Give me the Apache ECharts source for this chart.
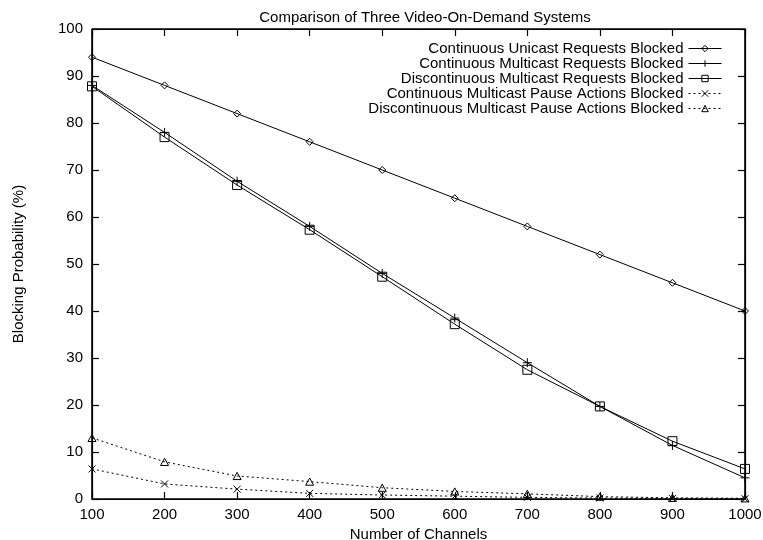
<!DOCTYPE html>
<html><head><meta charset="utf-8">
<script src="https://cdn.jsdelivr.net/npm/echarts@6/dist/echarts.min.js"></script>
<style>html,body{margin:0;padding:0;background:#fff}#c{width:763px;height:540px}</style>
</head><body><div id="c"></div>
<script>
const channels = [100, 200, 300, 400, 500, 600, 700, 800, 900, 1000];
const unicastReq = [94, 88, 82, 76, 70, 64, 58, 52, 46, 40];
const multicastReq = [88, 78, 67.6, 58, 48, 38.5, 29, 19.7, 11.4, 4.5];
const discMulticastReq = [87.8, 77, 66.8, 57.3, 47.3, 37.2, 27.5, 19.7, 12.3, 6.4];
const multicastPause = [6.4, 3.2, 2.1, 1.2, 0.85, 0.6, 0.35, 0.2, 0.1, 0.05];
const discMulticastPause = [13, 7.9, 4.9, 3.7, 2.4, 1.6, 1.1, 0.5, 0.25, 0.15];
const seriesNames = [
  'Continuous Unicast Requests Blocked',
  'Continuous Multicast Requests Blocked',
  'Discontinuous Multicast Requests Blocked',
  'Continuous Multicast Pause Actions Blocked',
  'Discontinuous Multicast Pause Actions Blocked'
];

const FONT = 'Liberation Sans';
const FS = 15;
const diamondPath = 'path://M5,0L10,5L5,10L0,5Z';
const plusPath = 'path://M0,5L10,5M5,0L5,10';
const rectPath = 'path://M0,0L10,0L10,10L0,10Z';
const xPath = 'path://M0,0L10,10M10,0L0,10';
const triPath = 'path://M5,0L10,9L0,9Z';

function mk(name, data, symbol, dashed, size) {
  return {
    name: name, type: 'line',
    data: channels.map((c, i) => [c, data[i]]),
    symbol: symbol, symbolSize: size, showSymbol: true, symbolKeepAspect: true,
    lineStyle: {color: '#000', width: 1, type: dashed ? [2, 3] : 'solid'},
    itemStyle: {color: 'rgba(255,255,255,0)', borderColor: '#000', borderWidth: 1},
    emphasis: {disabled: true}, animation: false
  };
}

const chart = echarts.init(document.getElementById('c'));
function axisCommon() {
  return {
    show: true, gridIndex: 0,
    axisLine: {show: true, onZero: false, lineStyle: {color: '#000', width: 1.2}},
    axisTick: {show: true, inside: true, length: 7, lineStyle: {color: '#000', width: 1.2}},
    splitLine: {show: false}
  };
}
chart.setOption({
  animation: false,
  title: {
    text: 'Comparison of Three Video-On-Demand Systems',
    left: 420, top: 5, textAlign: 'center',
    textStyle: {fontFamily: FONT, fontSize: FS, fontWeight: 'normal', color: '#000'}
  },
  grid: {left: 92, right: 18, top: 29, bottom: 41, outerBoundsMode: 'none', containLabel: false,
         show: true, borderColor: '#000', borderWidth: 1, backgroundColor: 'transparent'},
  legend: {
    orient: 'vertical', right: 36, top: 36, align: 'right',
    itemWidth: 33, itemHeight: 8, itemGap: 0,
    data: seriesNames,
    lineStyle: {width: 1},
    itemStyle: {borderWidth: 1},
    textStyle: {fontFamily: FONT, fontSize: FS, color: '#000', lineHeight: 14.6},
    selectedMode: false
  },
  xAxis: [
    Object.assign({
      type: 'value', min: 100, max: 1000, interval: 100, position: 'bottom',
      name: 'Number of Channels', nameLocation: 'middle', nameGap: 23.5,
      nameTextStyle: {fontFamily: FONT, fontSize: FS, color: '#000'},
      axisLabel: {fontFamily: FONT, fontSize: FS, color: '#000', margin: 8, formatter: v => String(v)}
    }, axisCommon()),
    Object.assign({
      type: 'value', min: 100, max: 1000, interval: 100, position: 'top',
      axisLabel: {show: false}
    }, axisCommon())
  ],
  yAxis: [
    Object.assign({
      type: 'value', min: 0, max: 100, interval: 10, position: 'left',
      name: 'Blocking Probability (%)', nameLocation: 'middle', nameGap: 66,
      nameTextStyle: {fontFamily: FONT, fontSize: FS, color: '#000'},
      axisLabel: {fontFamily: FONT, fontSize: FS, color: '#000', margin: 9}
    }, axisCommon()),
    Object.assign({
      type: 'value', min: 0, max: 100, interval: 10, position: 'right',
      axisLabel: {show: false}
    }, axisCommon())
  ],
  series: [
    mk(seriesNames[0], unicastReq, diamondPath, false, 7),
    mk(seriesNames[1], multicastReq, plusPath, false, 9),
    mk(seriesNames[2], discMulticastReq, rectPath, false, 9),
    mk(seriesNames[3], multicastPause, xPath, true, 7),
    mk(seriesNames[4], discMulticastPause, triPath, true, 8)
  ]
});
// Frame around the plot area, positioned through the library's own scales
const p0 = chart.convertToPixel({xAxisIndex: 0, yAxisIndex: 0}, [channels[0], 100]);
const p1 = chart.convertToPixel({xAxisIndex: 0, yAxisIndex: 0}, [channels[channels.length - 1], 0]);
chart.setOption({
  graphic: [{
    type: 'rect', z: 100, silent: true,
    shape: {x: p0[0], y: p0[1], width: p1[0] - p0[0], height: p1[1] - p0[1]},
    style: {fill: 'none', stroke: '#000', lineWidth: 1.2}
  }]
});
</script></body></html>
